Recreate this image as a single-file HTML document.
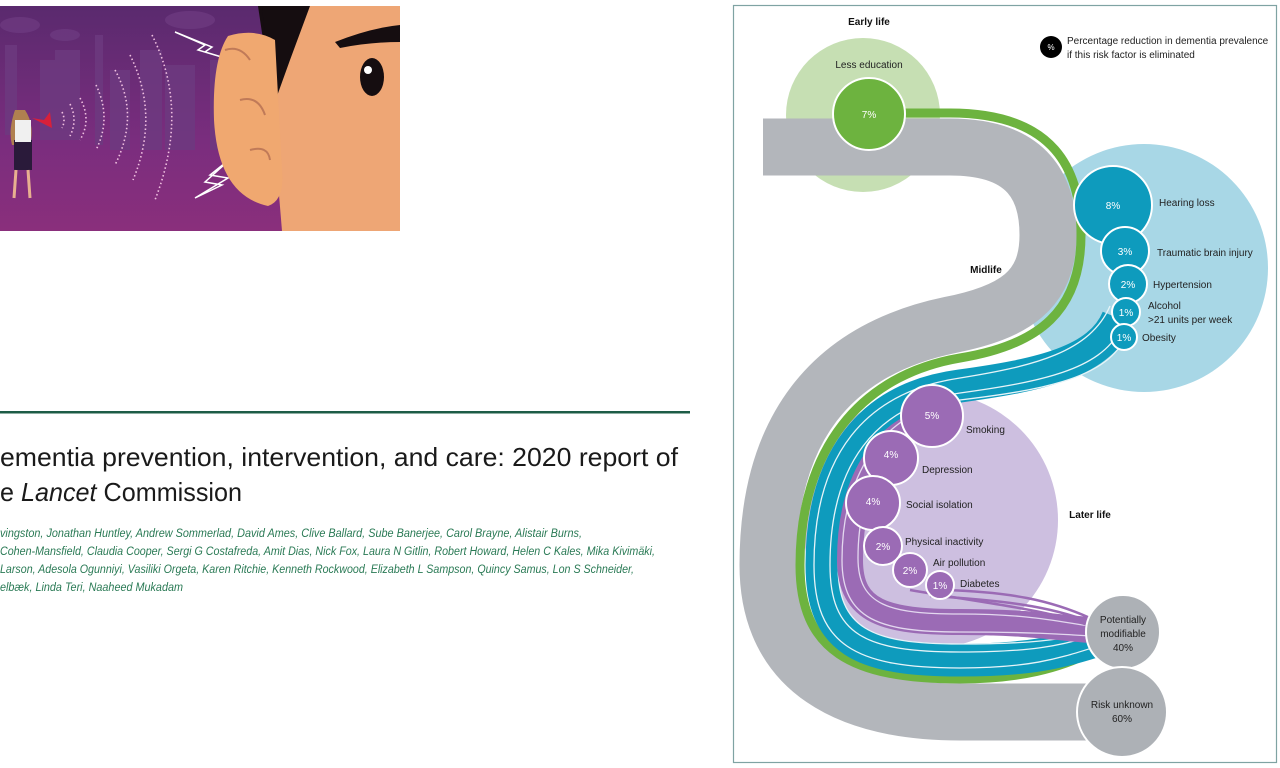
<!DOCTYPE html>
<html><head><meta charset="utf-8"><style>
html,body{margin:0;padding:0;background:#fff;width:1280px;height:768px;overflow:hidden}
svg{display:block}
text{font-family:"Liberation Sans",sans-serif}
</style></head><body>
<svg width="1280" height="768" viewBox="0 0 1280 768" xmlns="http://www.w3.org/2000/svg">
<defs>
<linearGradient id="bg" x1="0" y1="0" x2="0" y2="1">
<stop offset="0" stop-color="#5a2a6e"/><stop offset="0.6" stop-color="#7a2d7e"/><stop offset="1" stop-color="#8a2f7c"/>
</linearGradient>
</defs>
<g>
<rect x="0" y="6" width="400" height="225" fill="url(#bg)"/>
<g fill="#6d3a80" opacity="0.8">
<rect x="5" y="45" width="12" height="90"/><rect x="40" y="60" width="25" height="80"/><rect x="55" y="50" width="25" height="90"/>
<rect x="95" y="35" width="8" height="110"/><rect x="110" y="70" width="20" height="80"/><rect x="140" y="50" width="22" height="100"/>
<rect x="165" y="65" width="30" height="85"/><rect x="210" y="60" width="15" height="90"/>
<ellipse cx="20" cy="25" rx="20" ry="8"/><ellipse cx="190" cy="20" rx="25" ry="9"/><ellipse cx="65" cy="35" rx="15" ry="6"/>
</g>
<g fill="none" stroke="#f0c0e0" stroke-width="1.6" stroke-dasharray="1.5 2.5">
<path d="M62,112 Q66,120 62,128"/><path d="M70,104 Q78,120 70,136"/><path d="M80,98 Q92,120 80,140"/>
<path d="M96,85 Q112,118 96,150"/><path d="M115,70 Q140,115 115,165"/><path d="M130,55 Q160,115 133,180"/>
<path d="M152,35 Q190,110 155,200"/>
</g>
<path d="M175,32 L205,45 L198,50 L225,58 L205,52 L212,47 Z" fill="none" stroke="#fff" stroke-width="1.5"/>
<path d="M235,155 L210,175 L228,178 L195,198 L222,185 L205,182 Z" fill="none" stroke="#fff" stroke-width="1.5"/>
<path d="M258,6 L400,6 L400,70 L340,45 L300,60 L272,100 Z" fill="#150d10"/>
<path d="M272,6 L400,6 L400,231 L282,231 L272,110 Z" fill="#eea675"/>
<path d="M262,6 L310,6 L290,60 L272,110 Z" fill="#150d10"/>
<path d="M335,42 Q370,28 400,25 L400,42 Q370,42 340,48 Z" fill="#150d10"/>
<ellipse cx="372" cy="77" rx="12" ry="19" fill="#150d10"/><circle cx="368" cy="70" r="4" fill="#fff"/>
<path d="M228,36 Q212,60 214,120 Q218,195 268,206 Q285,200 282,170 L275,40 Q255,28 228,36 Z" fill="#f0a870"/>
<path d="M240,100 Q258,95 265,115 M250,150 Q268,145 270,160 M225,50 Q240,45 250,60" stroke="#c07a58" stroke-width="2" fill="none"/>
<path d="M15,110 Q8,130 12,145 L30,145 Q35,125 25,110 Z" fill="#b08050"/>
<rect x="14" y="140" width="18" height="30" fill="#2a1a3a"/>
<rect x="15" y="120" width="16" height="22" fill="#f0f0f0"/>
<path d="M16,170 L14,198 M28,170 L30,198" stroke="#e8b090" stroke-width="3"/>
<path d="M32,118 L44,120 L50,112 L52,128 Z" fill="#d8203a"/>
</g>
<rect x="0" y="411" width="690" height="2.5" fill="#1d5c46"/>
<text x="0" y="466" font-size="26" fill="#1a1a1a" textLength="678" lengthAdjust="spacingAndGlyphs">ementia prevention, intervention, and care: 2020 report of</text>
<text x="0" y="501" font-size="26" fill="#1a1a1a" textLength="242" lengthAdjust="spacingAndGlyphs">e <tspan font-style="italic">Lancet</tspan> Commission</text>
<g font-size="11.5" font-style="italic" fill="#2a7a55">
<text x="0" y="537" textLength="582" lengthAdjust="spacingAndGlyphs">vingston, Jonathan Huntley, Andrew Sommerlad, David Ames, Clive Ballard, Sube Banerjee, Carol Brayne, Alistair Burns,</text>
<text x="0" y="555" textLength="655" lengthAdjust="spacingAndGlyphs">Cohen-Mansfield, Claudia Cooper, Sergi G Costafreda, Amit Dias, Nick Fox, Laura N Gitlin, Robert Howard, Helen C Kales, Mika Kivimäki,</text>
<text x="0" y="573" textLength="634" lengthAdjust="spacingAndGlyphs">Larson, Adesola Ogunniyi, Vasiliki Orgeta, Karen Ritchie, Kenneth Rockwood, Elizabeth L Sampson, Quincy Samus, Lon S Schneider,</text>
<text x="0" y="591" textLength="183" lengthAdjust="spacingAndGlyphs">elbæk, Linda Teri, Naaheed Mukadam</text>
</g>
<rect x="733.5" y="5.5" width="543" height="757" fill="#fff" stroke="#7fa3a3" stroke-width="1.2"/>
<circle cx="863" cy="115" r="77" fill="#c6dfb3"/>
<circle cx="1144" cy="268" r="124" fill="#a8d7e6"/>
<circle cx="930" cy="520" r="128" fill="#cdbfe0"/>
<path d="M763,147 H950 C1030,147 1048,190 1048,235 C1048,290 1015,312 950,325 C830,350 768,430 768,565 C768,672 850,712 960,712 H1110" fill="none" stroke="#b3b6bb" stroke-width="57"/>
<path d="M905,113 H950 C1055,113 1081,170 1081,235 C1081,310 1040,345 960,358 C860,375 800,450 800,565 C800,650 850,679 960,679 C1020,679 1060,668 1092,652" fill="none" stroke="#6db33f" stroke-width="9"/>
<path d="M1118,318 C1100,362 1040,375 960,386 C870,398 822,460 822,565 C822,640 860,660 960,660 C1030,660 1060,652 1092,642" fill="none" stroke="#0e9bbd" stroke-width="33"/>
<g fill="none" stroke="#e6f4f8" stroke-width="1.3">
<path d="M1120,330 C1100,370 1040,382 960,393 C875,405 830,465 830,565 C830,635 865,652 960,652 C1030,652 1060,646 1092,636"/>
<path d="M1124,340 C1104,378 1044,390 960,400 C880,412 838,470 838,565 C838,628 870,644 960,644 C1030,644 1060,640 1092,632"/>
<path d="M1110,306 C1090,352 1035,366 960,378 C865,392 814,455 814,565 C814,645 855,668 960,668 C1030,668 1060,658 1092,648"/>
</g>
<path d="M930,420 C885,432 850,480 850,560 C850,612 885,622 960,622 C1030,622 1060,628 1090,630" fill="none" stroke="#9b6bb5" stroke-width="26"/>
<g fill="none" stroke="#e3d8ef" stroke-width="1.3">
<path d="M925,410 C880,425 842,478 842,560 C842,620 880,632 960,632 C1030,632 1060,634 1090,636"/>
<path d="M930,428 C890,440 858,485 858,558 C858,606 890,614 960,614 C1030,614 1060,622 1090,626"/>
</g>
<g fill="none" stroke="#9b6bb5" stroke-width="2.5">
<path d="M945,590 C1010,592 1050,600 1090,618"/>
<path d="M930,596 C1000,600 1050,606 1090,622"/>
<path d="M910,590 C990,604 1050,610 1090,626"/>
</g>
<g stroke="#fff" stroke-width="2">
<circle cx="869" cy="114" r="36" fill="#6db33f"/>
<circle cx="1113" cy="205" r="39" fill="#0e9bbd"/>
<circle cx="1125" cy="251" r="24" fill="#0e9bbd"/>
<circle cx="1128" cy="284" r="19" fill="#0e9bbd"/>
<circle cx="1126" cy="312" r="14" fill="#0e9bbd"/>
<circle cx="1124" cy="337" r="13" fill="#0e9bbd"/>
<circle cx="932" cy="416" r="31" fill="#9b6bb5"/>
<circle cx="891" cy="458" r="27" fill="#9b6bb5"/>
<circle cx="873" cy="503" r="27" fill="#9b6bb5"/>
<circle cx="883" cy="546" r="19" fill="#9b6bb5"/>
<circle cx="910" cy="570" r="17" fill="#9b6bb5"/>
<circle cx="940" cy="585" r="14" fill="#9b6bb5"/>
<circle cx="1123" cy="632" r="37" fill="#adb1b6"/>
<circle cx="1122" cy="712" r="45" fill="#adb1b6"/>
</g>
<g font-size="10" fill="#fff" text-anchor="middle">
<text x="869" y="118">7%</text>
<text x="1113" y="209">8%</text>
<text x="1125" y="255">3%</text>
<text x="1128" y="288">2%</text>
<text x="1126" y="316">1%</text>
<text x="1124" y="341">1%</text>
<text x="932" y="419">5%</text>
<text x="891" y="458">4%</text>
<text x="873" y="505">4%</text>
<text x="883" y="550">2%</text>
<text x="910" y="574">2%</text>
<text x="940" y="589">1%</text>
</g>
<g font-size="10" fill="#222">
<text x="869" y="68" text-anchor="middle">Less education</text>
<text x="1159" y="206">Hearing loss</text>
<text x="1157" y="256">Traumatic brain injury</text>
<text x="1153" y="288">Hypertension</text>
<text x="1148" y="309">Alcohol</text>
<text x="1148" y="323">&gt;21 units per week</text>
<text x="1142" y="341">Obesity</text>
<text x="966" y="433">Smoking</text>
<text x="922" y="473">Depression</text>
<text x="906" y="508">Social isolation</text>
<text x="905" y="545">Physical inactivity</text>
<text x="933" y="566">Air pollution</text>
<text x="960" y="587">Diabetes</text>
<text x="1123" y="623" text-anchor="middle">Potentially</text>
<text x="1123" y="637" text-anchor="middle">modifiable</text>
<text x="1123" y="651" text-anchor="middle">40%</text>
<text x="1122" y="708" text-anchor="middle">Risk unknown</text>
<text x="1122" y="722" text-anchor="middle">60%</text>
<text x="1067" y="44">Percentage reduction in dementia prevalence</text>
<text x="1067" y="58">if this risk factor is eliminated</text>
</g>
<g font-size="10" font-weight="bold" fill="#111">
<text x="869" y="25" text-anchor="middle">Early life</text>
<text x="986" y="273" text-anchor="middle">Midlife</text>
<text x="1090" y="518" text-anchor="middle">Later life</text>
</g>
<circle cx="1051" cy="47" r="11" fill="#000"/>
<text x="1051" y="50" font-size="8" fill="#fff" text-anchor="middle">%</text>
</svg>
</body></html>
